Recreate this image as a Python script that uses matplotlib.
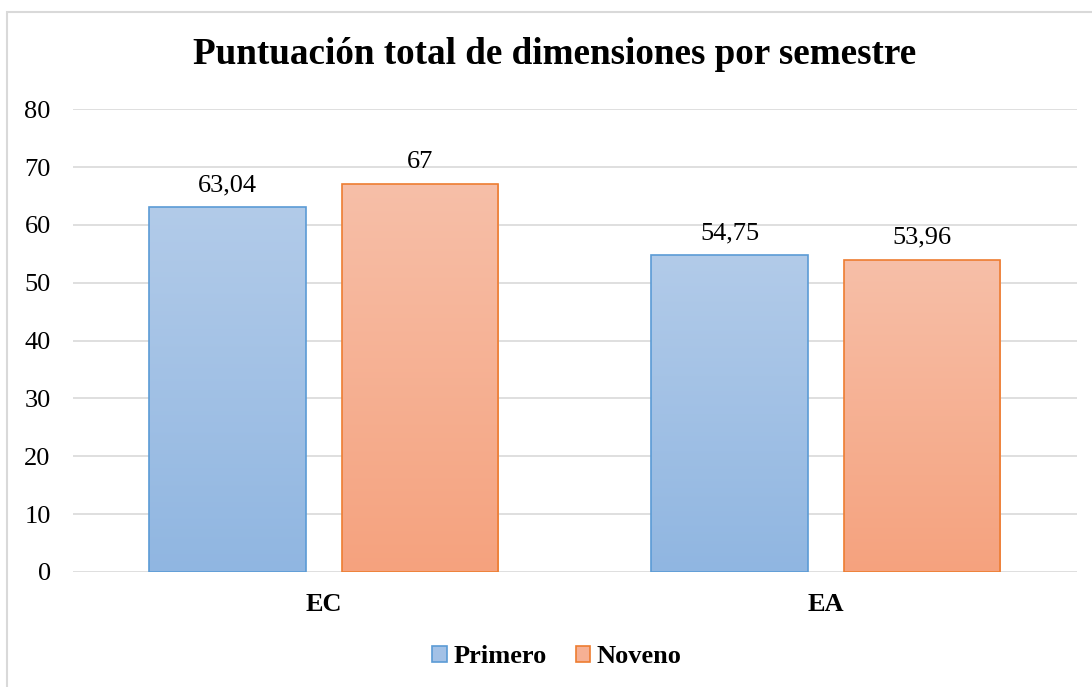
import numpy as np
import matplotlib.pyplot as plt
from matplotlib.patches import Rectangle, Patch
from matplotlib.colors import LinearSegmentedColormap

# data
categories = ['EC', 'EA']
primero = [63.04, 54.75]
noveno = [67, 53.96]
series_names = ['Primero', 'Noveno']
labels_primero = ['63,04', '54,75']
labels_noveno = ['67', '53,96']

plt.rcParams['font.family'] = ['Liberation Serif', 'DejaVu Serif']

fig = plt.figure(figsize=(10.92, 6.87), dpi=100)
ax = fig.add_axes([0.0668, 0.1674, 0.9194, 0.6736])

x = np.arange(len(categories))
w = 0.311
off = 0.192

bars1 = ax.bar(x - off, primero, w, facecolor='none', edgecolor='#5b9bd5', lw=1.2, zorder=3)
bars2 = ax.bar(x + off, noveno, w, facecolor='none', edgecolor='#ed7d31', lw=1.2, zorder=3)

# vertical gradient fill, lighter at the top
blue_cm = LinearSegmentedColormap.from_list('b', ['#90b6e1', '#b2cbe9'])
orange_cm = LinearSegmentedColormap.from_list('o', ['#f5a27e', '#f7bfa8'])
grad = np.linspace(0, 1, 256).reshape(-1, 1)

for bars, cm in [(bars1, blue_cm), (bars2, orange_cm)]:
    for b in bars:
        x0, y0 = b.get_x(), b.get_y()
        im = ax.imshow(grad, cmap=cm, origin='lower', aspect='auto',
                       extent=[x0, x0 + b.get_width(), y0, y0 + b.get_height()],
                       zorder=2)
        im.set_clip_path(b)

for bars, labs in [(bars1, labels_primero), (bars2, labels_noveno)]:
    for b, t in zip(bars, labs):
        ax.annotate(t, (b.get_x() + b.get_width() / 2, b.get_height()),
                    xytext=(0, 8), textcoords='offset points',
                    ha='center', va='bottom', fontsize=19)

ax.set_xlim(-0.5, 1.5)
ax.set_ylim(0, 80)
ax.set_yticks(range(0, 81, 10))
ax.set_xticks(x)
ax.set_xticklabels(categories, fontweight='bold')
ax.tick_params(axis='y', length=0, pad=16, labelsize=19)
ax.tick_params(axis='x', length=0, pad=15, labelsize=19)
ax.grid(axis='y', color='#d9d9d9', lw=1.2, zorder=0)
for s in ax.spines.values():
    s.set_visible(False)

fig.text(0.508, 0.92, 'Puntuación total de dimensiones por semestre',
         ha='center', va='center', fontsize=26.7, fontweight='bold')

handles = [Patch(facecolor='#a3c1e6', edgecolor='#5b9bd5', lw=1.2),
           Patch(facecolor='#f6b094', edgecolor='#ed7d31', lw=1.2)]
fig.legend(handles, series_names, loc='center', bbox_to_anchor=(0.51, 0.044),
           ncol=2, frameon=False, handlelength=0.55, handleheight=0.55,
           handletextpad=0.25, columnspacing=1.1,
           prop={'weight': 'bold', 'size': 19})

fig.patches.append(Rectangle((7 / 1092, -0.05), 1.2, 1.05 - 12 / 687,
                             transform=fig.transFigure, fill=False,
                             edgecolor='#d9d9d9', lw=1.5))

fig.savefig('out.png', dpi=100)
